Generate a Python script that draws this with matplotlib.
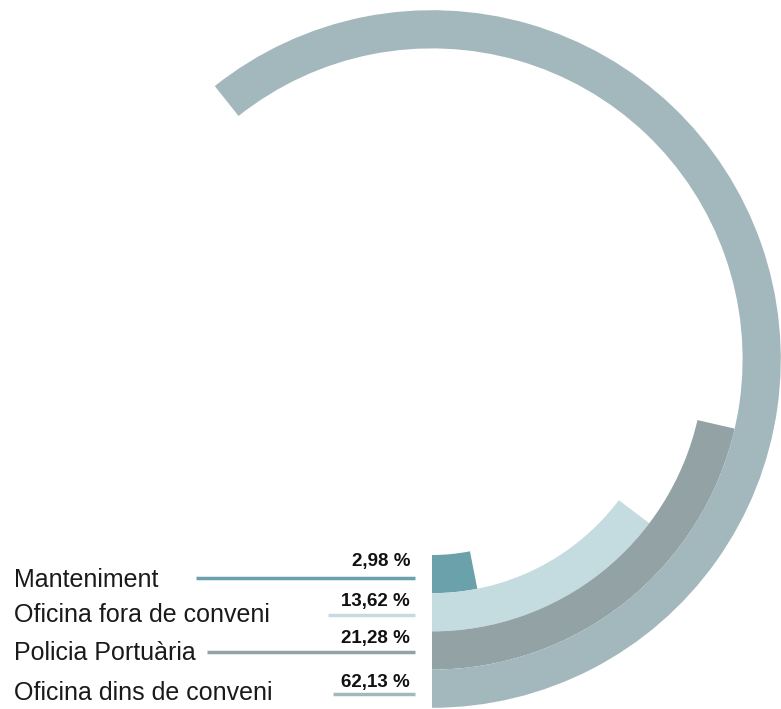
import matplotlib
matplotlib.use("Agg")
import matplotlib.pyplot as plt
from matplotlib.patches import Wedge

categories = ["Manteniment", "Oficina fora de conveni", "Policia Portuària", "Oficina dins de conveni"]
values = [2.98, 13.62, 21.28, 62.13]
value_labels = ["2,98 %", "13,62 %", "21,28 %", "62,13 %"]
# arc extents as drawn in the picture (percent of a full turn)
arc_extent = [3.1, 14.7, 21.4, 60.7]
colors = ["#6aa1ab", "#c4dbe0", "#92a2a5", "#a3b8bc"]

W, H = 781, 709
fig = plt.figure(figsize=(W / 100, H / 100), dpi=100)
ax = fig.add_axes([0, 0, 1, 1])
ax.set_xlim(0, W)
ax.set_ylim(H, 0)
ax.set_aspect("equal")
ax.axis("off")

cx, cy = 432, 359
r_inner0 = 196
ring_w = 38.2

for i, (v, c) in enumerate(zip(arc_extent, colors)):
    r_out = r_inner0 + ring_w * (i + 1)
    theta1 = 90 - v * 3.6
    theta2 = 90
    ax.add_patch(Wedge((cx, cy), r_out, theta1, theta2, width=ring_w, facecolor=c, edgecolor="none"))

# labels
label_base = [587, 622, 660, 700]
line_y = [578, 615, 652, 694]
line_x0 = [196, 328, 207, 333]
pct_base = [566, 606, 643, 687]
font = ["Liberation Sans", "DejaVu Sans"]
for i, cat in enumerate(categories):
    ax.text(14, label_base[i], cat, fontsize=18, family=font, color="#1a1a1a",
            ha="left", va="baseline")
    ax.plot([line_x0[i], 415], [line_y[i], line_y[i]], color=colors[i], lw=2.5, solid_capstyle="butt")
    ax.text(410, pct_base[i], value_labels[i], fontsize=13.5, family=font, color="#111111",
            ha="right", va="baseline", fontweight="bold")

fig.savefig("out.png", dpi=100)
